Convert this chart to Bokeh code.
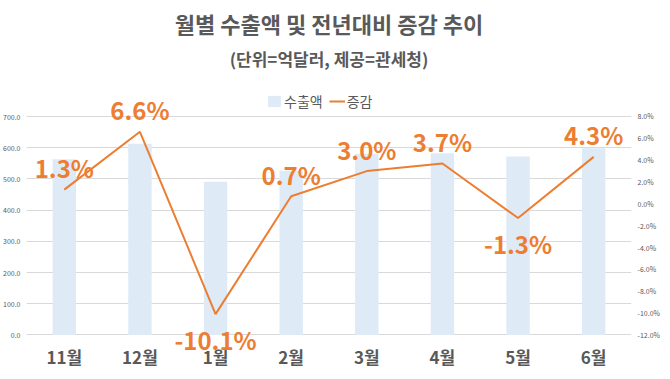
from bokeh.plotting import figure
from bokeh.models import (Range1d, LinearAxis, FixedTicker, PrintfTickFormatter,
                          ColumnDataSource, LabelSet, Legend, LegendItem, Title)
from bokeh.core.properties import value
from bokeh.embed import file_html
from bokeh.resources import INLINE

months = ["11월", "12월", "1월", "2월", "3월", "4월", "5월", "6월"]
exports = [563, 613, 491, 526, 581, 582, 572, 598]
growth = [1.3, 6.6, -10.1, 0.7, 3.0, 3.7, -1.3, 4.3]
growth_labels = ["1.3%", "6.6%", "-10.1%", "0.7%", "3.0%", "3.7%", "-1.3%", "4.3%"]
label_above = [True, True, False, True, True, True, False, True]
left_ticks = [0, 100, 200, 300, 400, 500, 600, 700]
right_ticks = [-12, -10, -8, -6, -4, -2, 0, 2, 4, 6, 8]

FONT = "Noto Sans CJK KR"
GRAY = "#595959"
ORANGE = "#ED7D31"
BLUE = "#DEEBF7"

src = ColumnDataSource(dict(
    m=months, v=exports, g=growth, lab=growth_labels,
    off=[22 if a else -25 for a in label_above],
))

# ranges extended beyond the tick span so labels/legend above and below are not clipped
p = figure(x_range=months, y_range=Range1d(-50, 825),
           width=662, height=371,
           min_border_left=24, min_border_right=30, min_border_bottom=20, min_border_top=77,
           output_backend="svg", toolbar_location=None,
           title="월별 수출액 및 전년대비 증감 추이")
p.extra_y_ranges = {"pct": Range1d(-13.43, 11.57)}

bars = p.vbar(x="m", top="v", width=0.31, source=src, fill_color=BLUE, line_color=None)
line = p.line(x="m", y="g", source=src, y_range_name="pct", line_color=ORANGE, line_width=2)

p.title.text_font = FONT
p.title.text_font_size = "22px"
p.title.text_color = GRAY
p.title.align = "center"
p.title.text_font_style = "bold"
p.title.standoff = -4

sub = Title(text="(단위=억달러, 제공=관세청)", align="center", text_font=FONT,
            text_font_size="17px", text_color=GRAY, text_font_style="bold", standoff=14)
p.add_layout(sub, "above")

legend = Legend(items=[LegendItem(label="수출액", renderers=[bars]),
                       LegendItem(label="증감", renderers=[line])],
                orientation="horizontal", location=(240, 239),
                label_text_font=FONT, label_text_font_size="14px", label_text_color=GRAY,
                border_line_color=None, background_fill_alpha=0,
                glyph_width=16, glyph_height=14, spacing=6, padding=0, margin=0,
                label_standoff=2, label_height=14)
p.add_layout(legend)

# axes
ax = p.yaxis[0]
ax.ticker = FixedTicker(ticks=left_ticks)
ax.formatter = PrintfTickFormatter(format="%.1f")
rax = LinearAxis(y_range_name="pct", ticker=FixedTicker(ticks=right_ticks),
                 formatter=PrintfTickFormatter(format="%.1f%%"))
p.add_layout(rax, "right")
for a in (ax, rax):
    a.major_label_text_font = FONT
    a.major_label_text_font_size = "7px"
    a.major_label_text_color = GRAY
    a.axis_line_color = None
    a.major_tick_line_color = None
    a.minor_tick_line_color = None
    a.major_tick_out = 0
    a.major_tick_in = 0
    a.major_label_standoff = 6

xa = p.xaxis[0]
xa.axis_line_color = None
xa.major_tick_line_color = None
xa.major_tick_out = 0
xa.major_tick_in = 0
xa.major_label_text_font = FONT
xa.major_label_text_font_size = "17px"
xa.major_label_text_font_style = "bold"
xa.major_label_text_color = GRAY
xa.major_label_standoff = -7

p.xgrid.grid_line_color = None
p.ygrid.grid_line_color = "#D9D9D9"
p.outline_line_color = None
p.x_range.range_padding = 0

labels = LabelSet(x="m", y="g", text="lab", y_range_name="pct", y_offset="off", source=src,
                  text_align="center", text_baseline="middle", text_font=value(FONT),
                  text_font_size="24px", text_font_style="bold", text_color=ORANGE)
p.add_layout(labels)

open("out.html", "w").write(file_html(p, INLINE))
